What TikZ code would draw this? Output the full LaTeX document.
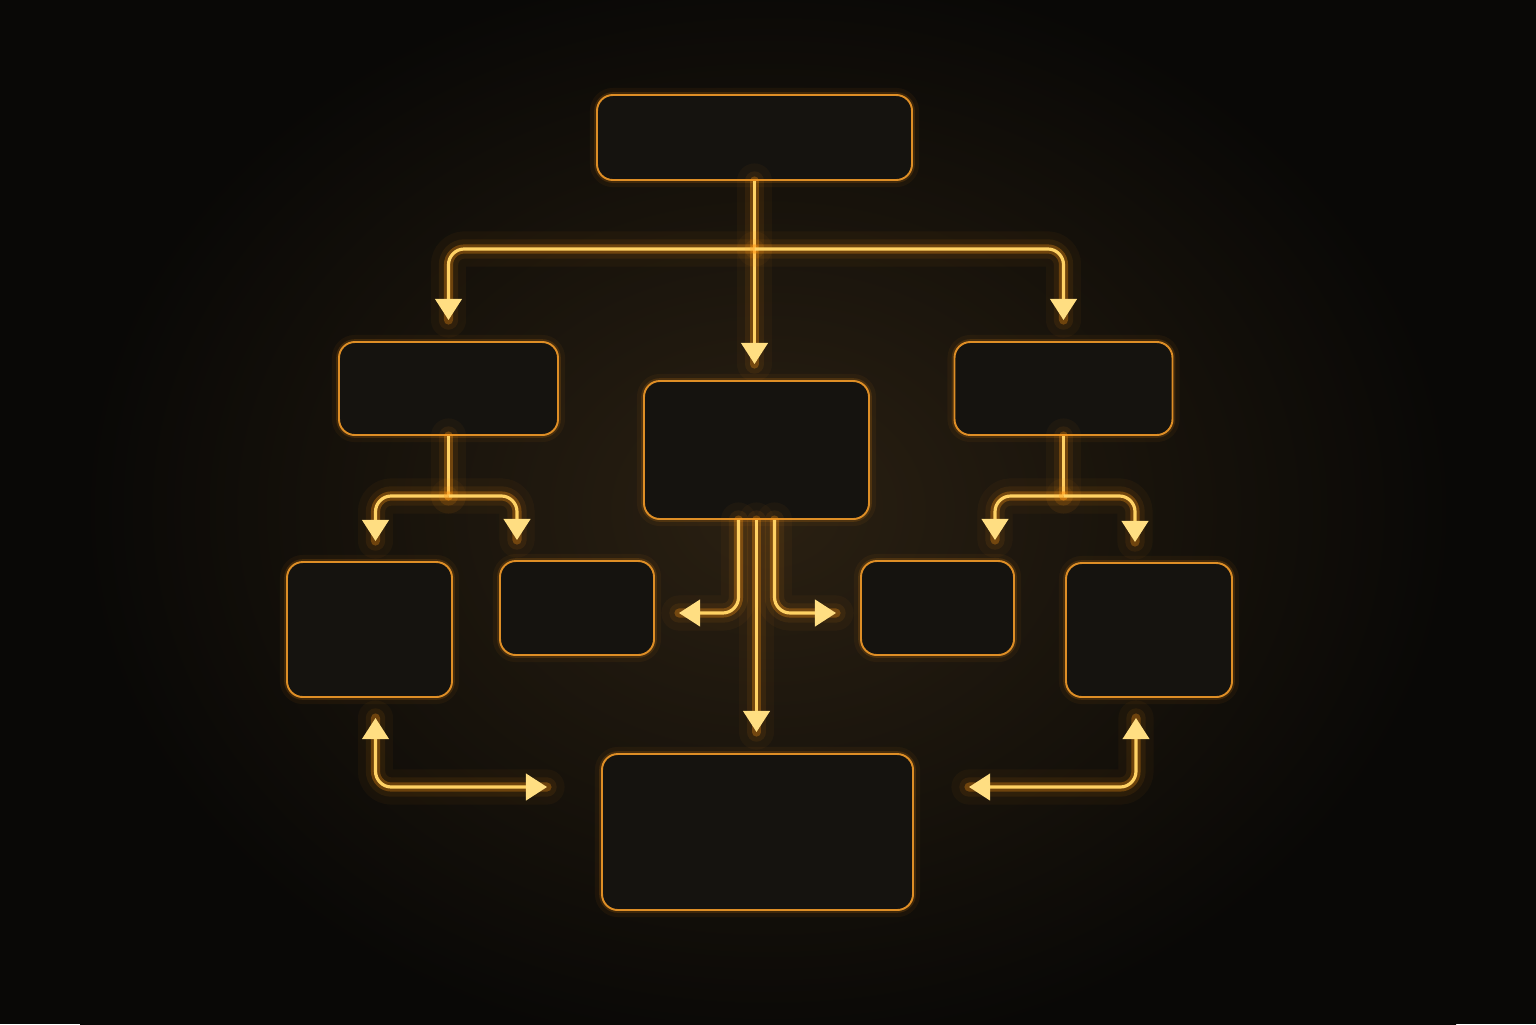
\documentclass[tikz,border=0pt]{standalone}
\usetikzlibrary{arrows.meta}

\definecolor{bgout}{RGB}{9,8,6}
\definecolor{bgin}{RGB}{42,32,18}
\definecolor{boxfill}{RGB}{21,19,15}
\definecolor{edgecol}{RGB}{222,142,38}
\definecolor{wirecol}{RGB}{255,210,100}
\definecolor{tipcol}{RGB}{255,222,130}
\definecolor{glowcol}{RGB}{255,150,20}

\tikzset{
  glowtip/.tip={Triangle[width=7.5pt,length=6pt,color=tipcol]},
  box/.style={draw=edgecol, line width=0.55pt, fill=boxfill, rounded corners=4.5pt,
    inner sep=0pt,
    preaction={draw=glowcol, line width=4pt, opacity=.05},
    preaction={draw=glowcol, line width=1.6pt, opacity=.15}},
  wire/.style={draw=wirecol, line width=0.9pt, rounded corners=4.5pt, -glowtip,
    preaction={draw=glowcol, line width=10pt, opacity=.04, line cap=round, -},
    preaction={draw=glowcol, line width=5.5pt, opacity=.08, line cap=round, -},
    preaction={draw=glowcol, line width=2.6pt, opacity=.3, line cap=round, -}},
  twoway/.style={wire, glowtip-glowtip}
}

\begin{document}
\begin{tikzpicture}
        % Background
        \useasboundingbox (0,0) rectangle (15.36,-10.24);
        \clip (0,0) rectangle (15.36,-10.24);
        \fill[bgout] (0,0) rectangle (15.36,-10.24);
        \shade[inner color=bgin, outer color=bgout] (0.8,0.4) rectangle (14.56,-10.6);

        % Boxes
        \node[box, minimum width=3.15cm, minimum height=0.85cm] (top) at (7.545,-1.375) {};
        \node[box, minimum width=2.19cm, minimum height=0.93cm] (lmid) at (4.485,-3.885) {};
        \node[box, minimum width=2.25cm, minimum height=1.38cm] (cmid) at (7.565,-4.50) {};
        \node[box, minimum width=2.18cm, minimum height=0.93cm] (rmid) at (10.635,-3.885) {};
        \node[box, minimum width=1.65cm, minimum height=1.35cm] (ll) at (3.695,-6.295) {};
        \node[box, minimum width=1.54cm, minimum height=0.94cm] (lr) at (5.77,-6.08) {};
        \node[box, minimum width=1.53cm, minimum height=0.94cm] (rl) at (9.375,-6.08) {};
        \node[box, minimum width=1.66cm, minimum height=1.34cm] (rr) at (11.49,-6.30) {};
        \node[box, minimum width=3.11cm, minimum height=1.56cm] (bot) at (7.575,-8.32) {};

        % Split points
        \coordinate (split) at ([yshift=-6.8mm]top.south);
        \coordinate (lsplit) at ([yshift=-6mm]lmid.south);
        \coordinate (rsplit) at ([yshift=-6mm]rmid.south);

        % Top level
        \draw[wire, shorten >=1.6mm] (top.south) -- (top.south |- cmid.north);
        \draw[wire, shorten >=2.1mm] (split) -| (lmid.north);
        \draw[wire, shorten >=2.1mm] (split) -| (rmid.north);

        % Left and right branches
        \draw[wire, -] (lmid.south) -- (lsplit);
        \draw[wire, shorten >=2mm] (lsplit) -| ([xshift=0.6mm]ll.north);
        \draw[wire, shorten >=2mm] (lsplit) -| ([xshift=-6mm]lr.north);
        \draw[wire, -] (rmid.south) -- (rsplit);
        \draw[wire, shorten >=2mm] (rsplit) -| ([xshift=5.75mm]rl.north);
        \draw[wire, shorten >=2mm] (rsplit) -| ([xshift=-1.4mm]rr.north);

        % Centre branches
        \draw[wire, shorten >=2.4mm] ([xshift=-1.8mm]cmid.south) |- ([shift={(0,-0.5mm)}]lr.east);
        \draw[wire, shorten >=2.4mm] ([xshift=1.8mm]cmid.south) |- ([shift={(0,-0.5mm)}]rl.west);
        \draw[wire, shorten >=2.1mm] (cmid.south) -- (cmid.south |- bot.north);

        % Links to the bottom box
        \draw[twoway, shorten <=2mm, shorten >=5.4mm] ([xshift=0.6mm]ll.south) |- ([yshift=4.5mm]bot.west);
        \draw[twoway, shorten <=2mm, shorten >=5.5mm] ([xshift=-1.3mm]rr.south) |- ([yshift=4.5mm]bot.east);

    \end{tikzpicture}
\end{document}
